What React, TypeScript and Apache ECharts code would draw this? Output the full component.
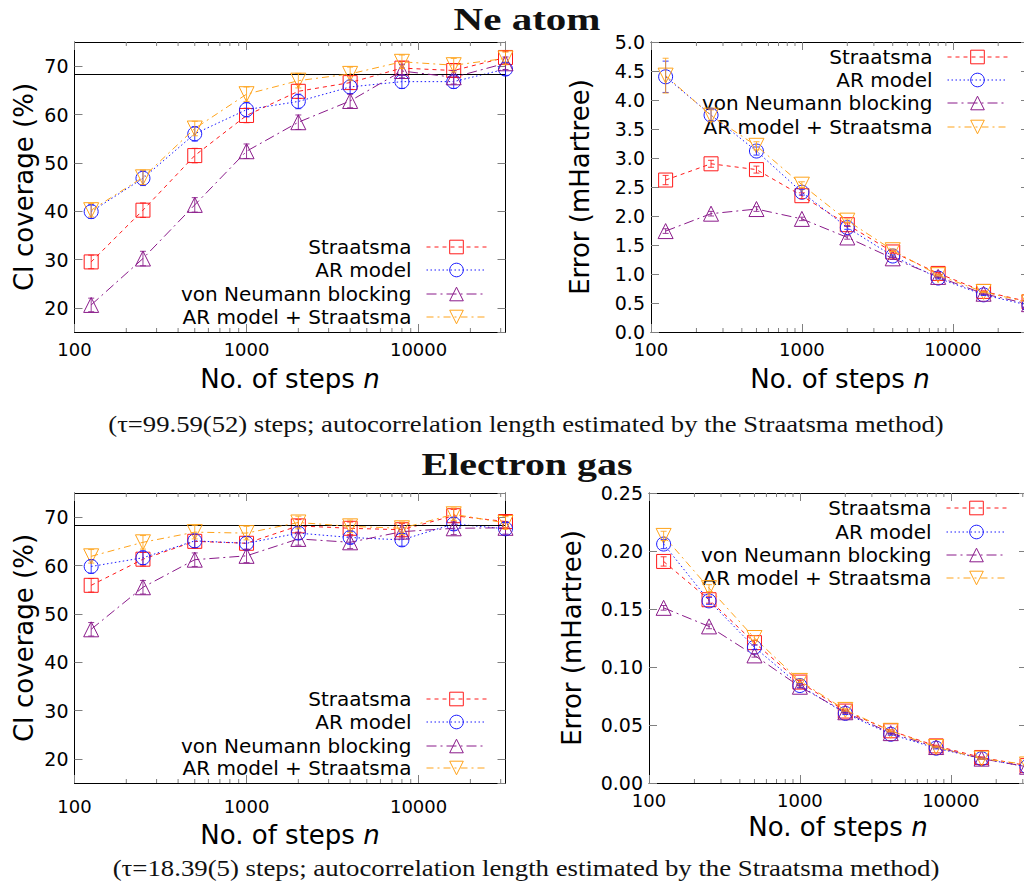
import React, { useEffect, useRef } from 'react';
import * as echarts from 'echarts';

// ---------------- data ----------------
const STEPS = [125, 250, 500, 1000, 2000, 4000, 8000, 16000, 32000];
const SERIES_NAMES = ['Straatsma', 'AR model', 'von Neumann blocking', 'AR model + Straatsma'];
const MINOR_TICKS = [200, 300, 400, 500, 600, 700, 800, 900, 2000, 3000, 4000, 5000, 6000, 7000, 8000, 9000, 20000, 30000];
const TARGET_COVERAGE = 68.27;
const X_MIN = 100;
const X_MAX = 32000;

// Ne atom: CI coverage (%)
const NE_COV_STRAATSMA = [29.5, 40.2, 51.5, 59.8, 64.8, 66.6, 69.6, 69.1, 71.8];
const NE_COV_AR = [39.9, 46.8, 56.0, 61.0, 62.7, 65.7, 66.8, 66.8, 69.4];
const NE_COV_VN = [20.6, 30.2, 41.3, 52.4, 58.4, 62.8, 69.0, 67.7, 70.6];
const NE_COV_ARS = [40.2, 47.0, 57.1, 64.2, 67.0, 68.4, 70.9, 70.2, 71.6];
const NE_COV_ERR = [1.4, 1.5, 1.5, 1.5, 1.5, 1.4, 1.4, 1.4, 1.3];

// Ne atom: error (mHartree)
const NE_ERR_STRAATSMA = [2.62, 2.90, 2.80, 2.35, 1.85, 1.38, 1.01, 0.70, 0.52];
const NE_ERR_AR = [4.40, 3.74, 3.12, 2.41, 1.80, 1.31, 0.93, 0.64, 0.46];
const NE_ERR_VN = [1.74, 2.04, 2.12, 1.95, 1.63, 1.27, 0.95, 0.66, 0.48];
const NE_ERR_ARS = [4.42, 3.73, 3.21, 2.54, 1.92, 1.41, 0.98, 0.69, 0.51];
const NE_ERR_ERR_STRAATSMA = [0.08, 0.06, 0.06, 0.05, 0.03, 0.02, 0.015, 0.01, 0.008];
const NE_ERR_ERR_AR = [0.27, 0.10, 0.07, 0.05, 0.03, 0.02, 0.015, 0.01, 0.008];
const NE_ERR_ERR_VN = [0.04, 0.04, 0.04, 0.03, 0.03, 0.02, 0.015, 0.01, 0.008];
const NE_ERR_ERR_ARS = [0.30, 0.10, 0.07, 0.05, 0.03, 0.02, 0.015, 0.01, 0.008];

// Electron gas: CI coverage (%)
const EG_COV_STRAATSMA = [55.9, 61.3, 65.0, 64.6, 68.2, 67.7, 67.4, 70.3, 69.1];
const EG_COV_AR = [59.8, 61.6, 65.1, 64.6, 66.7, 65.8, 65.3, 68.6, 67.6];
const EG_COV_VN = [46.8, 55.5, 61.2, 62.0, 65.5, 64.8, 67.0, 67.7, 67.8];
const EG_COV_ARS = [61.9, 64.8, 66.9, 66.7, 68.9, 68.1, 67.7, 70.6, 68.8];
const EG_COV_ERR = [1.4, 1.4, 1.4, 1.4, 1.3, 1.3, 1.3, 1.3, 1.3];

// Electron gas: error (mHartree)
const EG_ERR_STRAATSMA = [0.191, 0.158, 0.121, 0.087, 0.062, 0.045, 0.032, 0.022, 0.015];
const EG_ERR_AR = [0.206, 0.157, 0.117, 0.084, 0.060, 0.042, 0.030, 0.021, 0.014];
const EG_ERR_VN = [0.151, 0.135, 0.110, 0.083, 0.061, 0.043, 0.031, 0.021, 0.014];
const EG_ERR_ARS = [0.213, 0.168, 0.125, 0.088, 0.063, 0.045, 0.031, 0.021, 0.016];
const EG_ERR_ERR_STRAATSMA = [0.004, 0.003, 0.002, 0.0015, 0.001, 0.0008, 0.0006, 0.0005, 0.0004];
const EG_ERR_ERR_AR = [0.004, 0.003, 0.002, 0.0015, 0.001, 0.0008, 0.0006, 0.0005, 0.0004];
const EG_ERR_ERR_VN = [0.002, 0.002, 0.0015, 0.0012, 0.001, 0.0008, 0.0006, 0.0005, 0.0004];
const EG_ERR_ERR_ARS = [0.004, 0.003, 0.002, 0.0015, 0.001, 0.0008, 0.0006, 0.0005, 0.0004];

const TITLE_NE = 'Ne atom';
const TITLE_EG = 'Electron gas';
const CAPTION_NE = '(τ=99.59(52) steps; autocorrelation length estimated by the Straatsma method)';
const CAPTION_EG = '(τ=18.39(5) steps; autocorrelation length estimated by the Straatsma method)';

// ---------------- styles ----------------
const COLORS = ['#ff1a1a', '#1a1aff', '#8a1a8a', '#ffa31a'];
const DASHES: number[][] = [[4, 4], [1.5, 2.5], [10, 4, 2, 4], [7, 4, 2, 4]];
const SYMBOLS = ['rect', 'circle', 'triangle', 'triangle'];
const ROTATES = [0, 0, 0, 180];
const SANS = 'DejaVu Sans';
const SERIF = 'Liberation Serif';

const CHART_W = 1040;

const PANELS = [
  {
    left: 74.5, top: 42, width: 431, height: 290,
    yMin: 15, yMax: 75, interval: undefined as number | undefined, decimals: 0,
    yName: 'CI coverage (%)', yNameGap: 38, hline: true,
    xLabelMargin: 8, xNameGap: 34,
    values: [NE_COV_STRAATSMA, NE_COV_AR, NE_COV_VN, NE_COV_ARS],
    errs: [NE_COV_ERR, NE_COV_ERR, NE_COV_ERR, NE_COV_ERR],
    legendRight: CHART_W - 487, legendCenters: [247, 270, 294, 317],
  },
  {
    left: 651, top: 42, width: 378, height: 290,
    yMin: 0, yMax: 5, interval: 0.5, decimals: 1,
    yName: 'Error (mHartree)', yNameGap: 58, hline: false,
    xLabelMargin: 8, xNameGap: 34,
    values: [NE_ERR_STRAATSMA, NE_ERR_AR, NE_ERR_VN, NE_ERR_ARS],
    errs: [NE_ERR_ERR_STRAATSMA, NE_ERR_ERR_AR, NE_ERR_ERR_VN, NE_ERR_ERR_ARS],
    legendRight: CHART_W - 1008, legendCenters: [57, 80, 103, 127],
  },
  {
    left: 74.5, top: 493, width: 431, height: 290,
    yMin: 15, yMax: 75, interval: undefined as number | undefined, decimals: 0,
    yName: 'CI coverage (%)', yNameGap: 38, hline: true,
    xLabelMargin: 14, xNameGap: 39,
    values: [EG_COV_STRAATSMA, EG_COV_AR, EG_COV_VN, EG_COV_ARS],
    errs: [EG_COV_ERR, EG_COV_ERR, EG_COV_ERR, EG_COV_ERR],
    legendRight: CHART_W - 487, legendCenters: [699, 722, 746, 768],
  },
  {
    left: 649, top: 493, width: 378, height: 290,
    yMin: 0, yMax: 0.25, interval: 0.05, decimals: 2,
    yName: 'Error (mHartree)', yNameGap: 64, hline: false,
    xLabelMargin: 8, xNameGap: 31,
    values: [EG_ERR_STRAATSMA, EG_ERR_AR, EG_ERR_VN, EG_ERR_ARS],
    errs: [EG_ERR_ERR_STRAATSMA, EG_ERR_ERR_AR, EG_ERR_ERR_VN, EG_ERR_ERR_ARS],
    legendRight: CHART_W - 1007, legendCenters: [508, 532, 555, 578],
  },
];

function measure(text: string, font: string): number {
  const c = document.createElement('canvas').getContext('2d');
  if (!c) return 1;
  c.font = font;
  return c.measureText(text).width || 1;
}

function scaledText(text: string, cx: number, cy: number, size: number, weight: string, targetW: number) {
  const font = `${weight} ${size}px "${SERIF}"`;
  const w = measure(text, font);
  return {
    type: 'text',
    x: cx,
    y: cy,
    scaleX: targetW / w,
    silent: true,
    style: {
      text,
      x: 0,
      y: 0,
      align: 'center',
      verticalAlign: 'middle',
      fontFamily: SERIF,
      fontSize: size,
      fontWeight: weight,
      fill: '#111',
    },
  };
}

function buildOption() {
  const grid: any[] = [];
  const xAxis: any[] = [];
  const yAxis: any[] = [];
  const series: any[] = [];
  const legend: any[] = [];

  PANELS.forEach((p, k) => {
    grid.push({ left: p.left, top: p.top, width: p.width, height: p.height, containLabel: false });

    const tick = { show: true, inside: true, length: 8, lineStyle: { color: '#808080', width: 1 } };
    const line = { show: true, onZero: false, lineStyle: { color: '#000', width: 1 } };

    const xBase = {
      type: 'log', logBase: 10, min: X_MIN, max: X_MAX, gridIndex: k,
      splitLine: { show: false }, axisLine: line, axisTick: tick,
    };
    xAxis.push({
      ...xBase,
      position: 'bottom',
      axisLabel: {
        show: true, margin: p.xLabelMargin, color: '#000', fontFamily: SANS, fontSize: 18,
        showMinLabel: true, showMaxLabel: false,
        formatter: (v: number) => String(Math.round(v)),
      },
      name: '{a|No. of steps }{b|n}',
      nameLocation: 'middle',
      nameGap: p.xNameGap,
      nameTextStyle: {
        rich: {
          a: { fontFamily: SANS, fontSize: 26, color: '#000' },
          b: { fontFamily: SANS, fontSize: 26, color: '#000', fontStyle: 'italic' },
        },
      },
    });
    xAxis.push({ ...xBase, position: 'top', axisLabel: { show: false } });

    const yBase: any = {
      type: 'value', min: p.yMin, max: p.yMax, gridIndex: k,
      splitLine: { show: false }, axisLine: line, axisTick: tick,
    };
    if (p.interval !== undefined) yBase.interval = p.interval;
    else yBase.splitNumber = 6;
    yAxis.push({
      ...yBase,
      position: 'left',
      axisLabel: {
        show: true, margin: 6, color: '#000', fontFamily: SANS, fontSize: 19,
        showMinLabel: p.interval !== undefined, showMaxLabel: p.interval !== undefined,
        formatter: (v: number) => v.toFixed(p.decimals),
      },
      name: p.yName,
      nameLocation: 'middle',
      nameRotate: 90,
      nameGap: p.yNameGap,
      nameTextStyle: { fontFamily: SANS, fontSize: 26, color: '#000' },
    });
    yAxis.push({ ...yBase, position: 'right', axisLabel: { show: false } });

    // minor ticks (log decades)
    series.push({
      type: 'custom',
      name: 'minor ticks',
      xAxisIndex: 2 * k,
      yAxisIndex: 2 * k,
      silent: true,
      clip: false,
      z: 1,
      data: MINOR_TICKS.map((v) => [v, p.yMin]),
      encode: { x: 0, y: 1 },
      renderItem: (params: any, api: any) => {
        const cs = params.coordSys;
        const px = api.coord([api.value(0), api.value(1)])[0];
        const st = { stroke: '#808080', lineWidth: 1 };
        return {
          type: 'group',
          children: [
            { type: 'line', shape: { x1: px, y1: cs.y + cs.height, x2: px, y2: cs.y + cs.height - 4 }, style: st },
            { type: 'line', shape: { x1: px, y1: cs.y, x2: px, y2: cs.y + 4 }, style: st },
          ],
        };
      },
    });

    SERIES_NAMES.forEach((name, i) => {
      const vals = p.values[i];
      const errs = p.errs[i];
      const s: any = {
        type: 'line',
        name,
        xAxisIndex: 2 * k,
        yAxisIndex: 2 * k,
        data: STEPS.map((x, j) => [x, vals[j]]),
        symbol: SYMBOLS[i],
        symbolSize: i >= 2 ? 15 : 14,
        symbolRotate: ROTATES[i],
        showAllSymbol: true,
        z: 3 + i,
        lineStyle: { color: COLORS[i], width: 1, type: DASHES[i] },
        itemStyle: { color: 'rgba(255,255,255,0)', borderColor: COLORS[i], borderWidth: 1 },
        emphasis: { disabled: true },
      };
      if (i === 0 && p.hline) {
        s.markLine = {
          silent: true,
          symbol: ['none', 'none'],
          label: { show: false },
          lineStyle: { color: '#000', type: 'solid', width: 1 },
          data: [{ yAxis: TARGET_COVERAGE }],
        };
      }
      series.push(s);

      series.push({
        type: 'custom',
        name: name + ' error',
        xAxisIndex: 2 * k,
        yAxisIndex: 2 * k,
        silent: true,
        z: 8,
        data: STEPS.map((x, j) => [x, vals[j] - errs[j], vals[j] + errs[j]]),
        encode: { x: 0, y: [1, 2] },
        renderItem: (params: any, api: any) => {
          const x = api.value(0);
          const a = api.coord([x, api.value(1)]);
          const b = api.coord([x, api.value(2)]);
          const st = { stroke: COLORS[i], lineWidth: 1, opacity: 0.85 };
          const w = 3;
          return {
            type: 'group',
            children: [
              { type: 'line', shape: { x1: a[0], y1: a[1], x2: b[0], y2: b[1] }, style: st },
              { type: 'line', shape: { x1: a[0] - w, y1: a[1], x2: a[0] + w, y2: a[1] }, style: st },
              { type: 'line', shape: { x1: b[0] - w, y1: b[1], x2: b[0] + w, y2: b[1] }, style: st },
            ],
          };
        },
      });

      legend.push({
        data: [name],
        orient: 'vertical',
        align: 'right',
        right: p.legendRight,
        top: p.legendCenters[i] - 11,
        padding: 0,
        itemGap: 0,
        itemWidth: 60,
        itemHeight: 17,
        selectedMode: false,
        itemStyle: { borderWidth: 1 },
        lineStyle: { width: 1 },
        textStyle: { fontFamily: SANS, fontSize: 20, color: '#000', lineHeight: 22, padding: [0, 10, 0, 0] },
      });
    });
  });

  const graphic = [
    scaledText(TITLE_NE, 527, 19, 32, 'bold', 147),
    scaledText(CAPTION_NE, 526, 423, 24, 'normal', 836),
    scaledText(TITLE_EG, 527, 464, 32, 'bold', 211),
    scaledText(CAPTION_EG, 526, 868, 24, 'normal', 827),
  ];

  return {
    animation: false,
    backgroundColor: '#fff',
    textStyle: { fontFamily: SANS },
    grid,
    xAxis,
    yAxis,
    legend,
    series,
    graphic,
  };
}

export default function App() {
  const ref = useRef<HTMLDivElement>(null);
  useEffect(() => {
    if (!ref.current) return;
    const chart = echarts.init(ref.current, null, { renderer: 'svg' });
    chart.setOption(buildOption() as any);
    return () => chart.dispose();
  }, []);
  return (
    <div
      style={{
        position: 'absolute', left: 0, top: 0, width: 1024, height: 891,
        overflow: 'hidden', background: '#fff',
      }}
    >
      <div ref={ref} style={{ width: CHART_W, height: 891 }} />
    </div>
  );
}
